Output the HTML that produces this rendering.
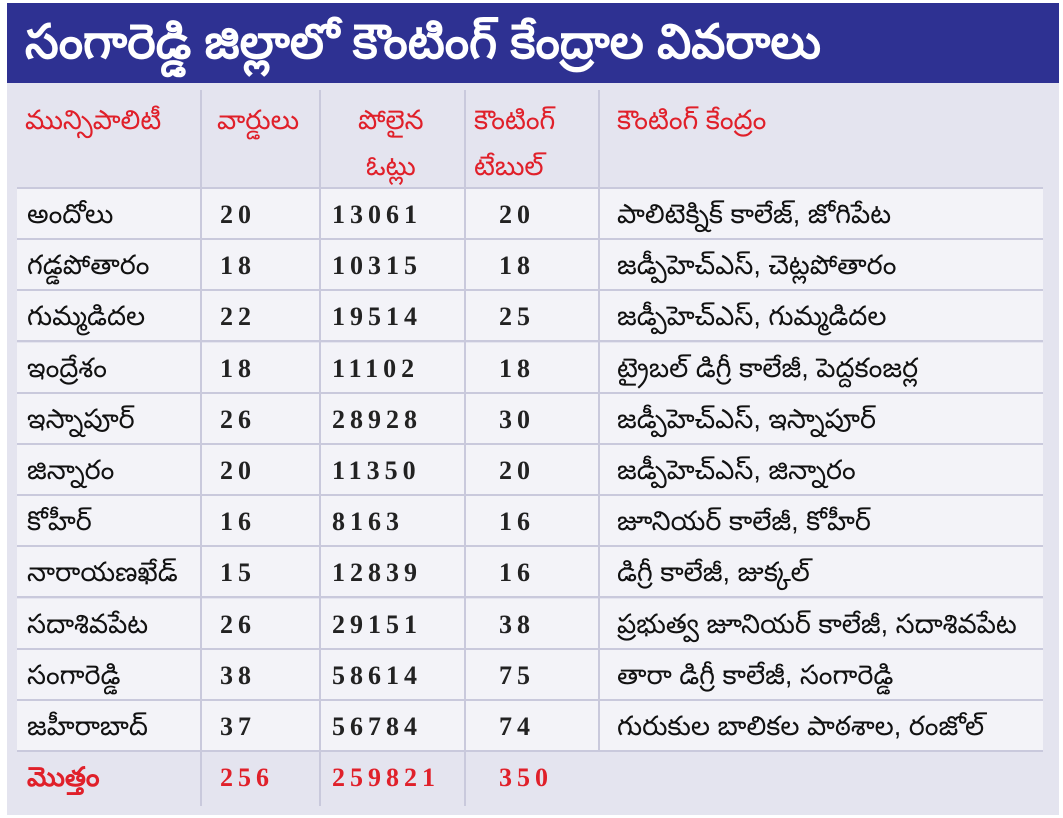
<!DOCTYPE html>
<html><head><meta charset="utf-8">
<style>
body{margin:0;width:1063px;height:818px;background:#fff;overflow:hidden;font-family:"Liberation Sans","DejaVu Sans",sans-serif;position:relative}
#title{position:absolute;left:7px;top:3px;width:1052px;height:80px;background:#2e3192;color:#fff;font-size:48px;line-height:80px;padding-left:18px;box-sizing:border-box;font-weight:bold}
#panel{position:absolute;left:7px;top:83px;width:1052px;height:732px;background:#e4e4ef}
.row{position:absolute;left:17px;width:1026px;height:49px;background:#f3f3f8;border-bottom:2px solid #c9c9dc}
.hd{position:absolute;color:#e0202a;font-size:27px;line-height:46px}
.c{position:absolute;font-size:27px;color:#111;top:10px}
.n{font-family:"Liberation Serif",serif;letter-spacing:5px;font-size:26px;font-weight:bold;color:#222;top:11px}
.vl{position:absolute;top:90px;height:716px;width:2px;background:#c9c9dc}
.red{color:#e0202a;font-weight:bold}
</style></head><body>
<div id="title">సంగారెడ్డి జిల్లాలో కౌంటింగ్ కేంద్రాల వివరాలు</div>
<div id="panel"></div>
<div class="hd" style="left:25px;top:97px">మున్సిపాలిటీ</div>
<div class="hd" style="left:217px;top:97px">వార్డులు</div>
<div class="hd" style="left:358px;top:97px;text-align:center">పోలైన<br>ఓట్లు</div>
<div class="hd" style="left:474px;top:97px">కౌంటింగ్<br>టేబుల్</div>
<div class="hd" style="left:617px;top:97px">కౌంటింగ్ కేంద్రం</div>
<div style="position:absolute;left:17px;top:187px;width:1026px;height:2px;background:#c9c9dc"></div>
<div id="rows"></div>
<div class="vl" style="left:200px"></div>
<div class="vl" style="left:319px"></div>
<div class="vl" style="left:464px"></div>
<div class="vl" style="left:598px;height:660px"></div>
<script>
const names=["అందోలు","గడ్డపోతారం","గుమ్మడిదల","ఇంద్రేశం","ఇస్నాపూర్","జిన్నారం","కోహీర్","నారాయణఖేడ్","సదాశివపేట","సంగారెడ్డి","జహీరాబాద్"];
const wards=[20,18,22,18,26,20,16,15,26,38,37];
const votes=[13061,10315,19514,11102,28928,11350,8163,12839,29151,58614,56784];
const tables=[20,18,25,18,30,20,16,16,38,75,74];
const centres=["పాలిటెక్నిక్ కాలేజ్, జోగిపేట","జడ్పీహెచ్ఎస్, చెట్లపోతారం","జడ్పీహెచ్ఎస్, గుమ్మడిదల","ట్రైబల్ డిగ్రీ కాలేజీ, పెద్దకంజర్ల","జడ్పీహెచ్ఎస్, ఇస్నాపూర్","జడ్పీహెచ్ఎస్, జిన్నారం","జూనియర్ కాలేజీ, కోహీర్","డిగ్రీ కాలేజీ, జుక్కల్","ప్రభుత్వ జూనియర్ కాలేజీ, సదాశివపేట","తారా డిగ్రీ కాలేజీ, సంగారెడ్డి","గురుకుల బాలికల పాఠశాల, రంజోల్"];
const totals=["మొత్తం",256,259821,350];
const R=document.getElementById('rows');
function cell(parent,x,txt,cls,name){const d=document.createElement('div');d.className='c '+cls;d.style.left=x+'px';d.textContent=txt;


parent.appendChild(d);}
names.forEach((n,i)=>{const r=document.createElement('div');r.className='row';r.style.top=(189+i*51.2)+'px';


R.appendChild(r);
cell(r,10,n,'','municipality-cell');cell(r,203,wards[i],'n','wards-cell');cell(r,315,votes[i],'n','votes-cell');cell(r,482,tables[i],'n','tables-cell');cell(r,600,centres[i],'','centre-cell');});
const t=document.createElement('div');t.style.cssText='position:absolute;left:17px;top:752px;width:1026px;height:50px';


R.appendChild(t);
cell(t,10,totals[0],'red','total-label');cell(t,203,totals[1],'n red','total-wards');cell(t,315,totals[2],'n red','total-votes');cell(t,482,totals[3],'n red','total-tables');
</script>
</body></html>
